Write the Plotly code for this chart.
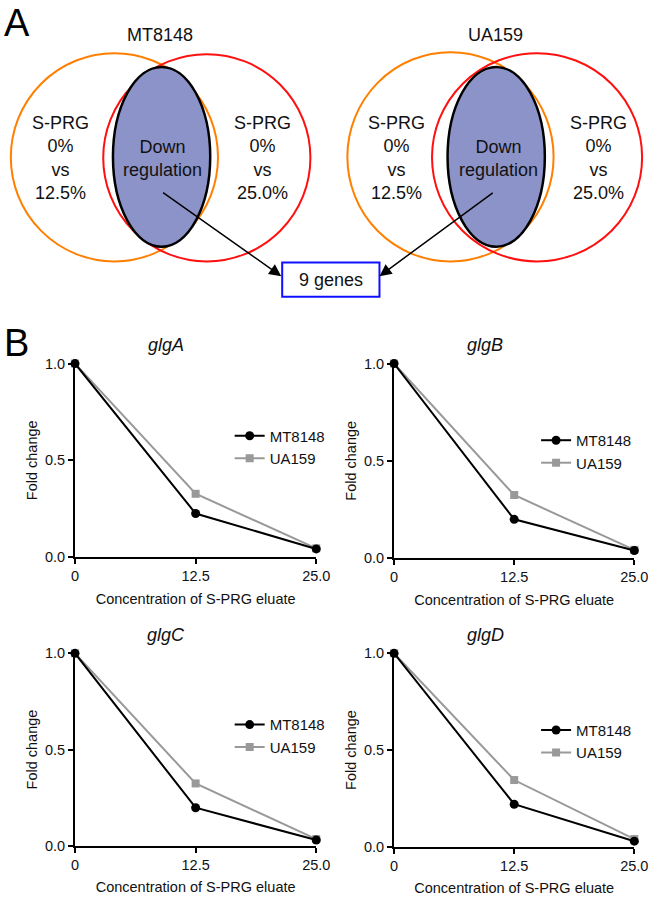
import plotly.graph_objects as go

# ---- data ----
conc = [0, 12.5, 25.0]
conc_ticks = ["0", "12.5", "25.0"]
fold_ticks = [0.0, 0.5, 1.0]
fold_ticktext = ["0.0", "0.5", "1.0"]

genes = ["glgA", "glgB", "glgC", "glgD"]
mt8148_glgA = [1.0, 0.225, 0.042]
ua159_glgA = [1.0, 0.327, 0.045]
mt8148_glgB = [1.0, 0.199, 0.039]
ua159_glgB = [1.0, 0.324, 0.042]
mt8148_glgC = [1.0, 0.198, 0.030]
ua159_glgC = [1.0, 0.324, 0.035]
mt8148_glgD = [1.0, 0.220, 0.029]
ua159_glgD = [1.0, 0.345, 0.040]

mt8148_all = [mt8148_glgA, mt8148_glgB, mt8148_glgC, mt8148_glgD]
ua159_all = [ua159_glgA, ua159_glgB, ua159_glgC, ua159_glgD]

strains = ["MT8148", "UA159"]

W, H = 660, 899
FONT = "Liberation Sans, Arial, sans-serif"
BLACK = "#000000"
GREY = "#999999"
ORANGE = "#FF7F00"
RED = "#FF1010"
ELLIPSE = "#8C93C9"
BLUE = "#1010FF"


def py(y):
    return 1 - y / H


def px(x):
    return x / W


# subplot boxes in pixels: (x0, x1, ytop, ybottom)
boxes = [(73, 321, 362, 559), (401, 648, 362, 560),
         (73, 321, 657, 853), (401, 648, 657, 854)]
legend_pos = [(232, 447), (547, 451.5), (232, 741), (547, 746.5)]

fig = go.Figure()
layout = {}
annotations = []

for i, gene in enumerate(genes):
    n = "" if i == 0 else str(i + 1)
    lg = "legend" if i == 0 else f"legend{i + 1}"
    fig.add_trace(go.Scatter(
        x=conc, y=ua159_all[i], name=strains[1], mode="lines+markers",
        line=dict(color=GREY, width=2), marker=dict(symbol="square", size=8, color=GREY),
        xaxis=f"x{n}", yaxis=f"y{n}", legend=lg, legendrank=2, cliponaxis=False,
    ))
    fig.add_trace(go.Scatter(
        x=conc, y=mt8148_all[i], name=strains[0], mode="lines+markers",
        line=dict(color=BLACK, width=2), marker=dict(symbol="circle", size=9, color=BLACK),
        xaxis=f"x{n}", yaxis=f"y{n}", legend=lg, legendrank=1, cliponaxis=False,
    ))
    x0, x1, yt, yb = boxes[i]
    axis_common = dict(
        showline=True, linecolor=BLACK, linewidth=2, ticks="outside", ticklen=5,
        tickwidth=2, tickcolor=BLACK, showgrid=False, zeroline=False, fixedrange=True,
        tickfont=dict(family=FONT, size=14.5, color="#111"),
    )
    layout[f"xaxis{n}"] = dict(
        axis_common, domain=[px(x0), px(x1)], range=[0, 25], anchor=f"y{n}",
        tickvals=conc, ticktext=conc_ticks,
        title=dict(text="Concentration of S-PRG eluate", standoff=10,
                   font=dict(family=FONT, size=14.5, color="#111")),
    )
    layout[f"yaxis{n}"] = dict(
        axis_common, domain=[py(yb), py(yt)], range=[0, 1], anchor=f"x{n}",
        tickvals=fold_ticks, ticktext=fold_ticktext,
        title=dict(text="Fold change", standoff=4,
                   font=dict(family=FONT, size=14.5, color="#111")),
    )
    lx, ly = legend_pos[i]
    layout[lg] = dict(
        x=px(lx), y=py(ly), xanchor="left", yanchor="middle", bgcolor="rgba(0,0,0,0)",
        font=dict(family=FONT, size=15, color="#111"), borderwidth=0,
    )
    annotations.append(dict(
        text=f"<i>{gene}</i>", x=px((x0 + x1) / 2 - 30), y=py(yt - 19), xref="paper", yref="paper",
        showarrow=False, font=dict(family=FONT, size=18, color="#111"),
        xanchor="center", yanchor="middle",
    ))

# overlay axis in pixel units for the Venn diagrams of panel A
layout["xaxis5"] = dict(domain=[0, 1], range=[0, W], visible=False, fixedrange=True, anchor="y5")
layout["yaxis5"] = dict(domain=[0, 1], range=[H, 0], visible=False, fixedrange=True, anchor="x5")
fig.add_trace(go.Scatter(x=[None], y=[None], xaxis="x5", yaxis="y5", showlegend=False))

venns = [
    dict(name="MT8148", orange=(7, 46, 220, 258), red=(102, 47, 315, 258),
         ell=(112, 60, 212, 243), left_txt=58, right_txt=266, mid_txt=163, title_x=160,
         tail=(162, 187), tip=(285, 273)),
    dict(name="UA159", orange=(353, 45, 565, 258), red=(440, 46, 656, 258),
         ell=(456, 60, 556, 243), left_txt=403, right_txt=611, mid_txt=508, title_x=505,
         tail=(504, 187), tip=(386, 273)),
]

shapes = []
txt_font = dict(family=FONT, size=18, color="#111")
for v in venns:
    for key, col in (("orange", ORANGE), ("red", RED)):
        a, b, c, d = v[key]
        shapes.append(dict(type="circle", xref="x5", yref="y5", x0=a, y0=b, x1=c, y1=d,
                           line=dict(color=col, width=2)))
    a, b, c, d = v["ell"]
    shapes.append(dict(type="circle", xref="x5", yref="y5", x0=a, y0=b, x1=c, y1=d,
                       line=dict(color=BLACK, width=2.5), fillcolor=ELLIPSE))
    annotations += [
        dict(text=v["name"], x=v["title_x"], y=27, xref="x5", yref="y5", showarrow=False,
             font=txt_font),
        dict(text="S-PRG<br>0%<br>vs<br>12.5%", x=v["left_txt"], y=153, xref="x5", yref="y5",
             showarrow=False, font=txt_font),
        dict(text="S-PRG<br>0%<br>vs<br>25.0%", x=v["right_txt"], y=153, xref="x5", yref="y5",
             showarrow=False, font=txt_font),
        dict(text="Down<br>regulation", x=v["mid_txt"], y=153, xref="x5", yref="y5",
             showarrow=False, font=txt_font),
        dict(text="", x=v["tip"][0], y=v["tip"][1], ax=v["tail"][0], ay=v["tail"][1],
             xref="x5", yref="y5", axref="x5", ayref="y5", showarrow=True,
             arrowhead=2, arrowsize=1.6, arrowwidth=1.5, arrowcolor=BLACK, standoff=0),
    ]

shapes.append(dict(type="rect", xref="x5", yref="y5", x0=286, y0=259, x1=386, y1=294,
                   line=dict(color=BLUE, width=2), fillcolor="white"))
annotations += [
    dict(text="9 genes", x=336, y=277, xref="x5", yref="y5", showarrow=False, font=txt_font),
    dict(text="A", x=13, y=15, xref="x5", yref="y5", showarrow=False,
         font=dict(family=FONT, size=38, color=BLACK)),
    dict(text="B", x=13, y=341, xref="x5", yref="y5", showarrow=False,
         font=dict(family=FONT, size=38, color=BLACK)),
]

fig.update_layout(
    width=W, height=H, margin=dict(l=0, r=0, t=0, b=0),
    paper_bgcolor="white", plot_bgcolor="rgba(0,0,0,0)",
    shapes=shapes, annotations=annotations, **layout,
)

# drop the default 8px body margin so the figure sits at the page origin
fig.write_html(
    "out.html",
    config={"displayModeBar": False},
    post_script="document.body.style.margin='0';document.body.style.overflow='hidden';",
)
